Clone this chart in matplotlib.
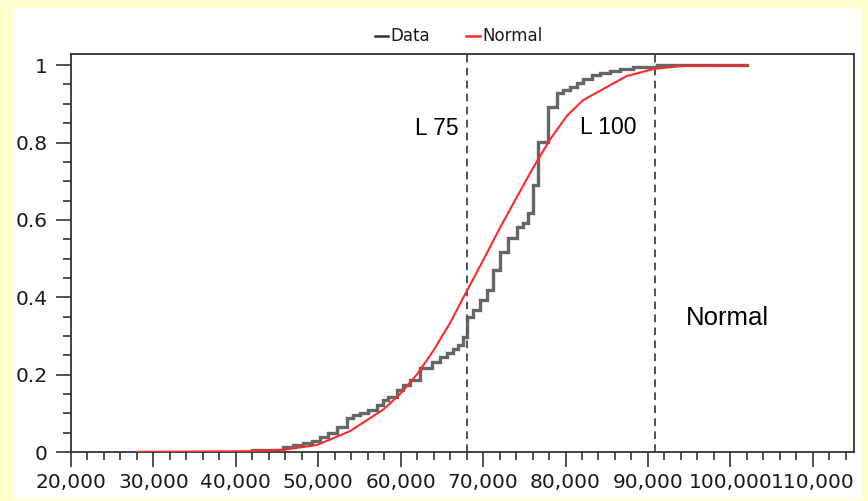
import matplotlib
matplotlib.use('Agg')
import matplotlib.pyplot as plt
from matplotlib.ticker import MultipleLocator, FixedLocator, FuncFormatter
from matplotlib.patches import Rectangle
from matplotlib.lines import Line2D

# ---- data ----
series_names = ['Data', 'Normal']

# empirical CDF: step positions and cumulative level after each step
data_x = [28000, 41900, 45770, 46980, 48195, 49210, 50220, 51230, 52240, 53460,
          54270, 55070, 56080, 57100, 57900, 58510, 59520, 60330, 61140, 62350,
          63770, 64780, 65590, 66400, 67000, 67610, 68100, 68820, 69640, 70450,
          71260, 72060, 73070, 74090, 74900, 75500, 76100, 76710, 77930, 78940,
          79750, 80560, 81370, 82170, 83190, 84200, 85410, 86630, 88240, 91070,
          102000]
data_y = [0.0, 0.005, 0.014, 0.018, 0.024, 0.029, 0.038, 0.048, 0.065, 0.087,
          0.096, 0.100, 0.109, 0.121, 0.134, 0.143, 0.160, 0.173, 0.186, 0.216,
          0.233, 0.246, 0.255, 0.265, 0.276, 0.298, 0.350, 0.367, 0.393, 0.419,
          0.470, 0.518, 0.552, 0.582, 0.591, 0.617, 0.690, 0.802, 0.892, 0.927,
          0.935, 0.944, 0.953, 0.965, 0.974, 0.980, 0.985, 0.989, 0.996, 1.0,
          1.0]

normal_x = [28000, 41720, 45800, 49820, 53860, 57900, 59930, 61950, 63970, 66000,
            68020, 70040, 72060, 74090, 76100, 78130, 80160, 82170, 87440, 90870,
            94310, 102000]
normal_y = [0.0, 0.002, 0.006, 0.018, 0.054, 0.110, 0.150, 0.200, 0.262, 0.334,
            0.416, 0.497, 0.580, 0.659, 0.736, 0.808, 0.869, 0.910, 0.972, 0.991,
            0.998, 1.0]

ref_x = [68000, 90900]
ref_labels = ['L 75', 'L 100']
ref_label_pos = [(67000, 0.837), (81800, 0.84)]
dist_label = 'Normal'
dist_label_pos = (94600, 0.347)

x_ticks = [20000, 30000, 40000, 50000, 60000, 70000, 80000, 90000, 100000, 110000]
y_ticks = [0, 0.2, 0.4, 0.6, 0.8, 1.0]
y_tick_labels = ['0', '0.2', '0.4', '0.6', '0.8', '1']

W, H = 868, 501
fig = plt.figure(figsize=(W / 100, H / 100), dpi=100)
fig.patch.set_facecolor('#FFFFCC')
fig.patches.append(Rectangle((13 / W, 2 / H), 849 / W, 491 / H,
                             transform=fig.transFigure, facecolor='white',
                             edgecolor='none', zorder=-5))

ax = fig.add_axes([71 / W, (H - 452) / H, (854 - 71) / W, (452 - 54.3) / H])
ax.set_zorder(2)
ax.set_facecolor('white')
ax.set_xlim(20000, 115000)
ax.set_ylim(0, 1.028)

ax.step(data_x, data_y, where='post', color='#555555', lw=2.4, alpha=0.9,
        solid_joinstyle='miter', zorder=3)
ax.plot(normal_x, normal_y, color='#ff2a2a', lw=1.5, zorder=4)

for xv in ref_x:
    ax.axvline(xv, color='#222222', lw=1.1, dashes=(5, 3.5), zorder=2)

for (lx, ly), lab in zip(ref_label_pos, ref_labels):
    ha = 'right' if lab == 'L 75' else 'left'
    ax.text(lx, ly, lab, ha=ha, va='center', fontsize=16.5,
            family='Liberation Sans', color='black')
ax.text(dist_label_pos[0], dist_label_pos[1], dist_label, ha='left', va='center',
        fontsize=18.5, family='Liberation Sans', color='black')

ax.xaxis.set_major_locator(FixedLocator(x_ticks))
ax.xaxis.set_minor_locator(MultipleLocator(2000))
ax.xaxis.set_major_formatter(FuncFormatter(lambda v, p: f'{v:,.0f}'))
ax.yaxis.set_major_locator(FixedLocator(y_ticks))
ax.yaxis.set_minor_locator(MultipleLocator(0.05))
ax.set_yticklabels(y_tick_labels)

ax.tick_params(which='major', direction='out', length=11, width=1.1,
               color='#222222', labelsize=14.5, labelcolor='#1a1a1a')
ax.tick_params(which='minor', direction='out', length=5.5, width=1.1,
               color='#222222')
ax.tick_params(axis='y', which='major', pad=6)
ax.tick_params(axis='x', which='major', pad=4)
for s in ax.spines.values():
    s.set_color('#333333')
    s.set_linewidth(1.3)

# legend drawn at top
leg_y = 1 - 36 / H
fig.lines.append(Line2D([375 / W, 388 / W], [leg_y, leg_y], transform=fig.transFigure,
                        color='#333333', lw=1.8))
fig.text(390 / W, leg_y, series_names[0], ha='left', va='center', fontsize=12,
         color='#1a1a1a')
fig.lines.append(Line2D([466 / W, 480 / W], [leg_y, leg_y], transform=fig.transFigure,
                        color='#ff2a2a', lw=1.8))
fig.text(482 / W, leg_y, series_names[1], ha='left', va='center', fontsize=12,
         color='#1a1a1a')

fig.savefig('out.png', dpi=100, facecolor=fig.get_facecolor())
